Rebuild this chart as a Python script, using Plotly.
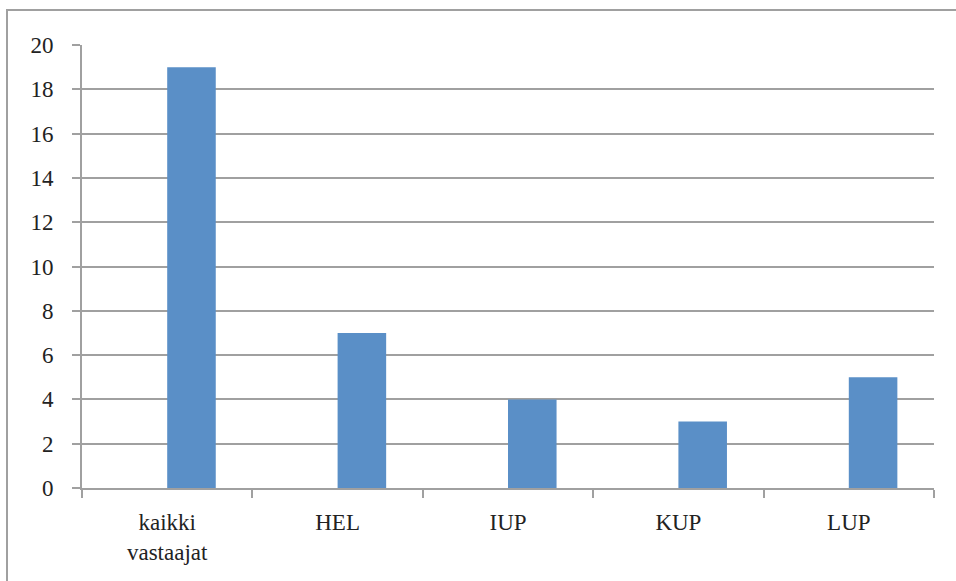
import plotly.graph_objects as go

categories = ["kaikki<br>vastaajat", "HEL", "IUP", "KUP", "LUP"]
empty_series = [None, None, None, None, None]
values = [19, 7, 4, 3, 5]
y_ticks = [0, 2, 4, 6, 8, 10, 12, 14, 16, 18, 20]

W, H = 956, 581
L, R, T, B = 82, 22, 45, 93
pw, ph = W - L - R, H - T - B

FONT = "Liberation Serif"

fig = go.Figure()
fig.add_trace(go.Bar(x=categories, y=empty_series, marker_color="#5A8FC7", showlegend=False))
fig.add_trace(go.Bar(x=categories, y=values, marker_color="#5A8FC7", marker_line_width=0, showlegend=False))

grid = "#A0A0A0"
fig.update_layout(
    width=W, height=H,
    margin=dict(l=L, r=R, t=T, b=B),
    plot_bgcolor="white", paper_bgcolor="white",
    barmode="group", bargap=0.43, bargroupgap=0,
    font=dict(family=FONT, size=23, color="#222222"),
    xaxis=dict(
        type="category", tickson="boundaries", ticks="outside", ticklen=8, tickwidth=2,
        tickcolor=grid, showline=True, linecolor=grid, linewidth=2, showgrid=False,
        tickfont=dict(family=FONT, size=23), ticklabelstandoff=12,
    ),
    yaxis=dict(
        range=[0, 20], tickvals=y_ticks, ticks="outside", ticklen=8, tickwidth=2,
        tickcolor=grid, showline=True, linecolor=grid, linewidth=2,
        showgrid=True, gridcolor=grid, gridwidth=2, zeroline=False,
        tickfont=dict(family=FONT, size=23), ticklabelstandoff=14,
    ),
    shapes=[dict(
        type="rect", xref="paper", yref="paper",
        x0=(7 - L) / pw, x1=(W + 20 - L) / pw,
        y0=-(H + 20 - T - ph) / ph, y1=(H - B - 10) / ph,
        line=dict(color="#A0A0A0", width=2), fillcolor="rgba(0,0,0,0)", layer="below",
    )],
)

fig.write_html("out.html")
